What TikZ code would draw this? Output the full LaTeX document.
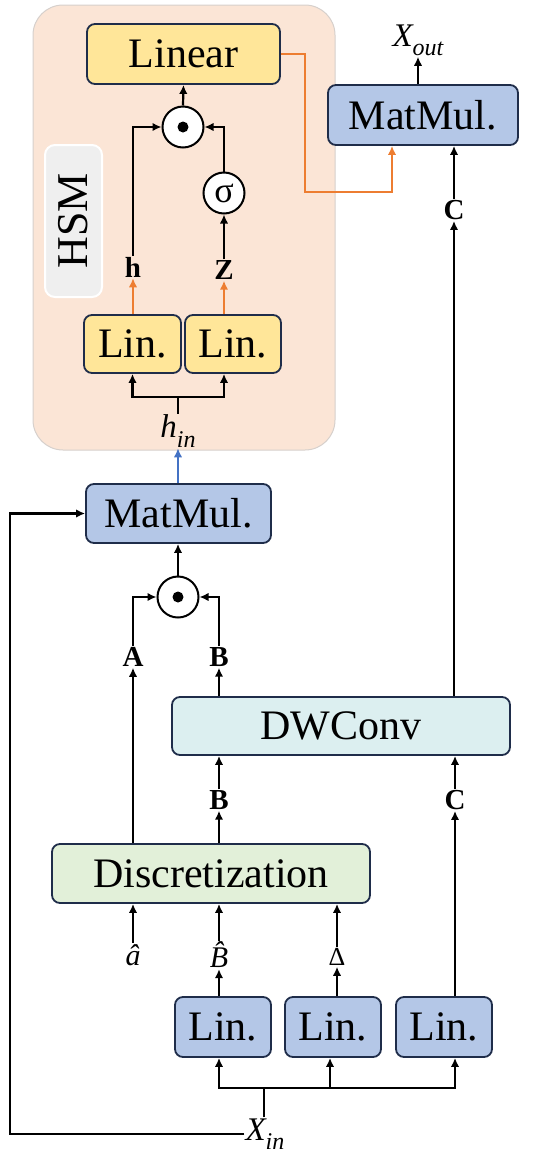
\documentclass[tikz,border=0pt]{standalone}
\usepackage{fontspec}
\setmainfont{Liberation Serif}
\usetikzlibrary{arrows.meta}

\begin{document}
\begin{tikzpicture}[x=1pt, y=-1pt,
    box/.style={draw=borderColour, line width=1.8pt, rounded corners=8pt, inner sep=0pt, font=\fontsize{42}{42}\selectfont},
    yellowbox/.style={box, fill=yellowFill},
    bluebox/.style={box, fill=blueFill},
    odot/.style={circle, draw, line width=2pt, fill=white, minimum size=41pt, inner sep=0pt,
        path picture={\fill[black] (path picture bounding box.center) circle (5.5pt);}},
    sig/.style={circle, draw, line width=2pt, fill=white, minimum size=41pt, inner sep=0pt, font=\fontsize{36}{36}\selectfont},
    lab/.style={inner sep=1pt, font=\fontsize{29}{29}\selectfont\bfseries},
    mlab/.style={inner sep=1pt, font=\fontsize{33}{33}\selectfont\itshape},
    wire/.style={line width=2.2pt},
    arr/.style={wire, -{Latex[length=9pt, width=8.5pt]}},
    orangearr/.style={arr, draw=orangeLine},
    bluearr/.style={arr, draw=blueLine}]

    \definecolor{borderColour}{HTML}{1F2D4A}
    \definecolor{yellowFill}{HTML}{FFE699}
    \definecolor{blueFill}{HTML}{B4C7E7}
    \definecolor{convFill}{HTML}{DCEFF0}
    \definecolor{discFill}{HTML}{E2F0D9}
    \definecolor{hsmFill}{HTML}{FBE5D6}
    \definecolor{hsmBorder}{HTML}{D6D0CC}
    \definecolor{tagFill}{HTML}{EFEFEF}
    \definecolor{orangeLine}{HTML}{ED7D31}
    \definecolor{blueLine}{HTML}{4472C4}

    % Subscript in the label font
    \def\lowsub#1{\raisebox{-0.28em}{\fontsize{24}{24}\selectfont #1}}

    \useasboundingbox (0,0) rectangle (550,1163);

    % HSM block
    \node[draw=hsmBorder, fill=hsmFill, line width=1pt, rounded corners=30pt, minimum width=302pt, minimum height=445pt] (hsm) at (184,227.5) {};
    \node[fill=tagFill, draw=white, line width=2pt, rounded corners=10pt, minimum width=152pt, minimum height=57pt, rotate=90, font=\fontsize{44}{44}\selectfont] (hsmtag) at (73.5,221) {HSM};

    \node[yellowbox, minimum width=193pt, minimum height=60pt] (linear) at (183.5,54) {Linear};
    \node[odot] (dotA) at (183,127) {};
    \node[sig] (sigma) at (224,193) {σ};
    \node[lab] (hlab) at (133,267) {h};
    \node[lab] (zlab) at (224,270) {Z};
    \node[yellowbox, minimum width=97pt, minimum height=58pt] (linh) at (132.5,344) {Lin.};
    \node[yellowbox, minimum width=96pt, minimum height=58pt] (linz) at (233,344) {Lin.};
    \node[mlab] (hin) at (178,431) {h\lowsub{in}};
    \coordinate (hsplit) at (178,397);

    % Output side
    \node[bluebox, minimum width=190pt, minimum height=60pt] (mmout) at (423,115) {MatMul.};
    \node[mlab] (xout) at (418,40) {X\lowsub{out}};
    \node[lab] (ctop) at (454,210) {C};
    \coordinate (obend) at (305,192);

    % Middle part
    \node[bluebox, minimum width=185pt, minimum height=59pt] (mmmid) at (178.5,513.5) {MatMul.};
    \node[odot] (dotB) at (178,597) {};
    \node[lab] (alab) at (133,657) {A};
    \node[lab] (blab) at (219,657) {B};
    \node[box, fill=convFill, minimum width=338pt, minimum height=58pt] (dwconv) at (341,726) {DWConv};
    \node[lab] (blow) at (219,800) {B};
    \node[lab] (clow) at (455,800) {C};

    % Input side
    \node[box, fill=discFill, minimum width=318pt, minimum height=59pt] (discr) at (211,873.5) {Discretization};
    \node[mlab, font=\fontsize{30}{30}\selectfont\itshape] (ahat) at (133,955) {â};
    \node[mlab, font=\fontsize{30}{30}\selectfont\itshape] (bhat) at (219,955) {B̂};
    \node[mlab, font=\fontsize{26}{26}\selectfont] (delta) at (337,957) {Δ};
    \node[bluebox, minimum width=96pt, minimum height=60pt] (lin1) at (223,1027) {Lin.};
    \node[bluebox, minimum width=96pt, minimum height=60pt] (lin2) at (333,1027) {Lin.};
    \node[bluebox, minimum width=96pt, minimum height=60pt] (lin3) at (444,1027) {Lin.};
    \node[mlab] (xin) at (265,1134) {X\lowsub{in}};
    \coordinate (xsplit) at (264,1088);
    \coordinate (loop) at (10,1134);

    % Draw HSM connections
    \draw[wire] (hin.north) -- (hsplit);
    \draw[arr] (hsplit) -| (linh.south);
    \draw[arr] (hsplit) -| (zlab |- linz.south);
    \draw[orangearr] (hlab |- linh.north) -- (hlab.south);
    \draw[orangearr] (zlab |- linz.north) -- (zlab.south);
    \draw[arr] (zlab.north) -- (sigma.south);
    \draw[arr] (hlab.north) |- (dotA.west);
    \draw[arr] (sigma.north) |- (dotA.east);
    \draw[arr] (dotA.north) -- (linear.south);
    \draw[orangearr] (linear.east) -| (obend) -| ([xshift=-31pt]mmout.south);

    % Draw output connections
    \draw[arr] (mmout.north -| xout) -- (xout.south);
    \draw[arr] (ctop.north) -- (ctop.north |- mmout.south);
    \draw[arr] (ctop |- dwconv.north) -- (ctop.south);
    \draw[bluearr] (mmmid.north -| hin) -- (hin.south);

    % Draw middle connections
    \draw[arr] (dotB.north) -- (mmmid.south -| dotB);
    \draw[arr] (alab.north) |- (dotB.west);
    \draw[arr] (blab.north) |- (dotB.east);
    \draw[arr] (blab |- dwconv.north) -- (blab.south);
    \draw[arr] (blow.north) -- (blow |- dwconv.south);
    \draw[arr] (clow.north) -- (clow |- dwconv.south);
    \draw[arr] (alab |- discr.north) -- (alab.south);
    \draw[arr] (blow |- discr.north) -- (blow.south);

    % Draw input connections
    \draw[arr] (ahat.north) -- (ahat |- discr.south);
    \draw[arr] (bhat.north) -- (bhat |- discr.south);
    \draw[arr] (delta.north) -- (delta |- discr.south);
    \draw[arr] (bhat |- lin1.north) -- (bhat.south);
    \draw[arr] (delta |- lin2.north) -- (delta.south);
    \draw[arr] (clow |- lin3.north) -- (clow.south);
    \draw[wire] (xin.north -| xsplit) -- (xsplit);
    \draw[arr] (xsplit) -| (bhat |- lin1.south);
    \draw[arr] (xsplit) -| ([xshift=-3pt]lin2.south);
    \draw[arr] (xsplit) -| (clow |- lin3.south);
    \draw[arr, rounded corners=0pt] (xin.west) -- (loop) |- (mmmid.west);

\end{tikzpicture}
\end{document}
